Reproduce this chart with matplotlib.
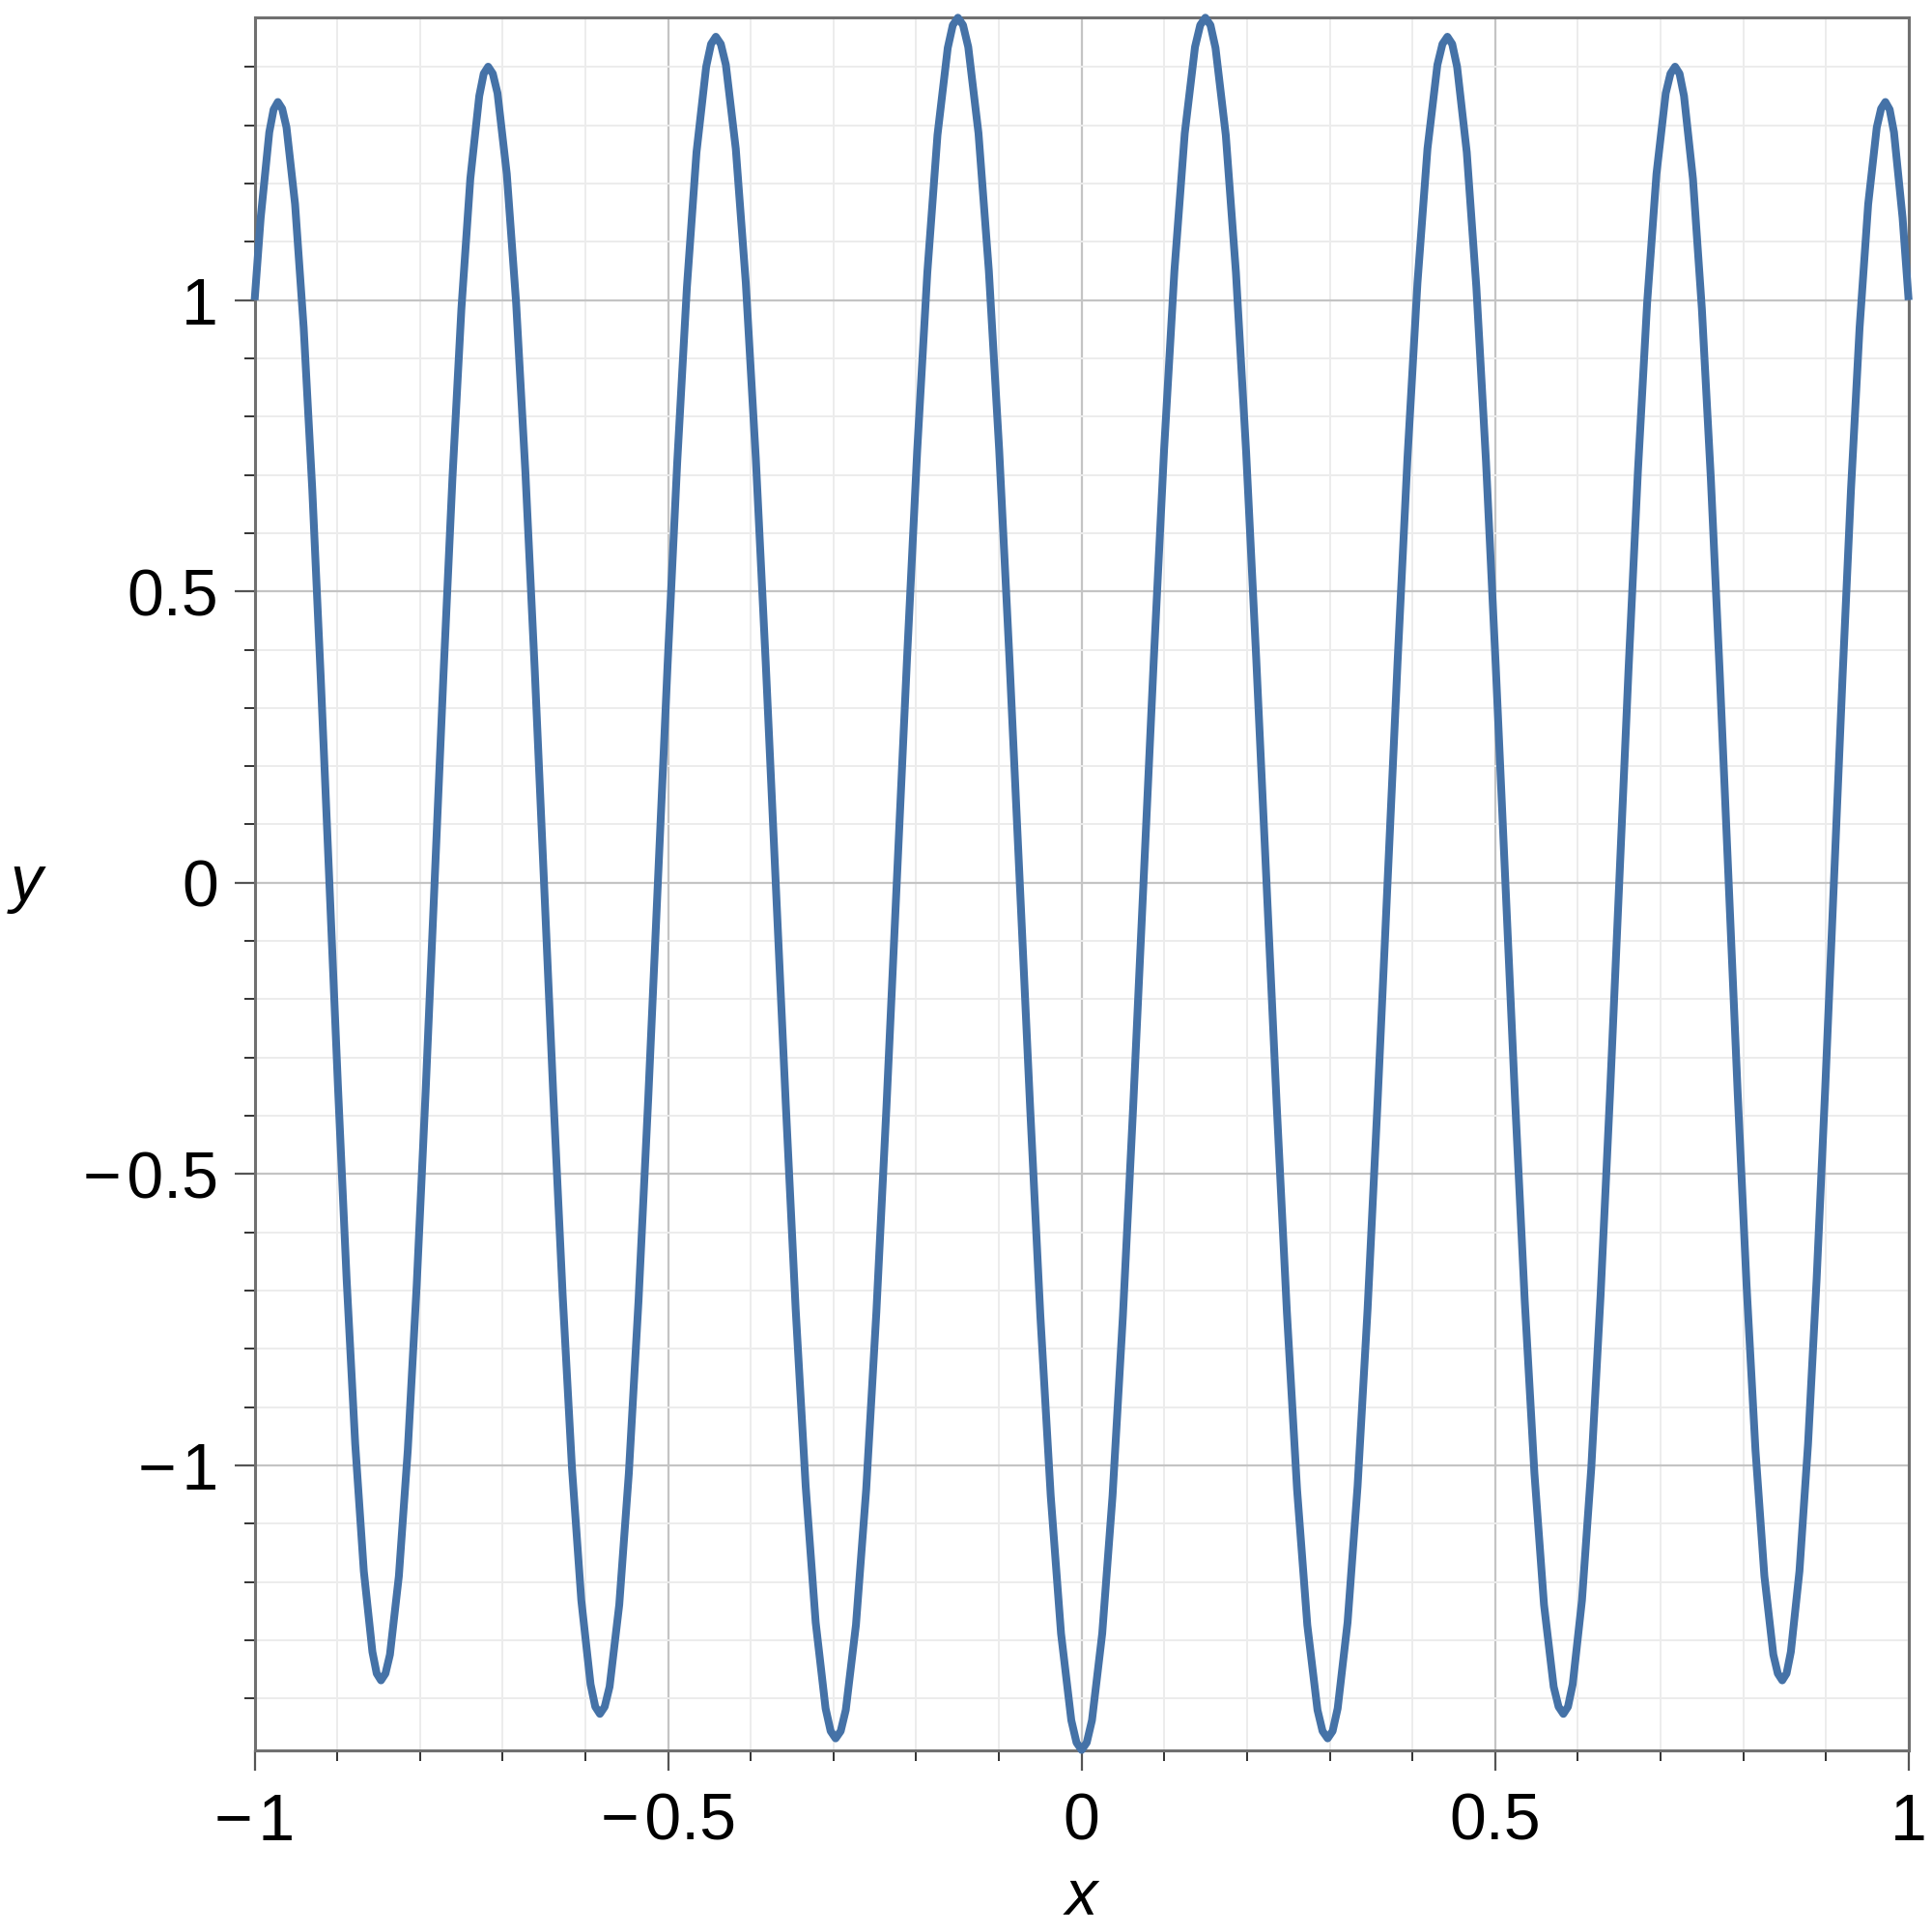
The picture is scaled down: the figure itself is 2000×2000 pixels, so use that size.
import matplotlib
matplotlib.use("Agg")
import matplotlib.pyplot as plt
from matplotlib.ticker import MultipleLocator, FixedLocator
import numpy as np

# Curve samples for x in [0, 1]; the plot is mirror-symmetric about x = 0
x_half = [
    0.0000, 0.0062, 0.0125, 0.0249, 0.0374, 0.0499, 0.0623, 0.0748, 0.0873, 0.0997, 0.1122, 0.1247, 0.1371, 0.1434,
    0.1496, 0.1558, 0.1619, 0.1743, 0.1866, 0.1989, 0.2112, 0.2236, 0.2359, 0.2482, 0.2605, 0.2729, 0.2852, 0.2913,
    0.2975, 0.3035, 0.3096, 0.3216, 0.3337, 0.3458, 0.3578, 0.3699, 0.3820, 0.3940, 0.4061, 0.4182, 0.4302, 0.4363,
    0.4423, 0.4481, 0.4540, 0.4657, 0.4773, 0.4890, 0.5007, 0.5124, 0.5241, 0.5358, 0.5475, 0.5591, 0.5708, 0.5767,
    0.5825, 0.5881, 0.5938, 0.6050, 0.6163, 0.6275, 0.6388, 0.6501, 0.6613, 0.6726, 0.6838, 0.6951, 0.7063, 0.7120,
    0.7176, 0.7230, 0.7284, 0.7392, 0.7500, 0.7608, 0.7716, 0.7824, 0.7932, 0.8040, 0.8148, 0.8256, 0.8364, 0.8418,
    0.8472, 0.8524, 0.8576, 0.8680, 0.8784, 0.8888, 0.8992, 0.9096, 0.9200, 0.9303, 0.9407, 0.9511, 0.9615, 0.9667,
    0.9719, 0.9771, 0.9823, 0.9927, 1.0000,
]
y_half = [
    -1.4885, -1.4757, -1.4375, -1.2885, -1.0518, -0.7436, -0.3848, 0.0000, 0.3847, 0.7430, 1.0505, 1.2863, 1.4344, 1.4719,
    1.4847, 1.4719, 1.4328, 1.2834, 1.0470, 0.7397, 0.3825, 0.0000, -0.3818, -0.7370, -1.0413, -1.2741, -1.4198, -1.4560,
    -1.4686, -1.4560, -1.4172, -1.2694, -1.0355, -0.7315, -0.3783, 0.0000, 0.3776, 0.7288, 1.0297, 1.2599, 1.4038, 1.4395,
    1.4520, 1.4395, 1.4005, 1.2538, 1.0222, 0.7218, 0.3730, 0.0000, -0.3719, -0.7175, -1.0132, -1.2391, -1.3799, -1.4142,
    -1.4265, -1.4142, -1.3757, -1.2316, -1.0041, -0.7089, -0.3664, 0.0000, 0.3653, 0.7046, 0.9950, 1.2166, 1.3550, 1.3886,
    1.4006, 1.3886, 1.3503, 1.2083, 0.9848, 0.6950, 0.3591, 0.0000, -0.3577, -0.6898, -0.9736, -1.1901, -1.3248, -1.3572,
    -1.3690, -1.3572, -1.3200, -1.1814, -0.9629, -0.6797, -0.3512, 0.0000, 0.3499, 0.6748, 0.9526, 1.1646, 1.2966, 1.3285,
    1.3400, 1.3270, 1.2880, 1.1410, 1.0000,
]

x_major = [-1, -0.5, 0, 0.5, 1]
x_major_labels = ["\u2212\u200a1", "\u2212\u200a0.5", "0", "0.5", "1"]
y_major = [-1, -0.5, 0, 0.5, 1]
y_major_labels = ["\u2212\u200a1", "\u2212\u200a0.5", "0", "0.5", "1"]
x_label = "x"
y_label = "y"

xh = np.array(x_half)
yh = np.array(y_half)
x_full = np.concatenate([-xh[:0:-1], xh])
y_full = np.concatenate([yh[:0:-1], yh])

plt.rcParams['font.family'] = ['Liberation Sans', 'DejaVu Sans']

fig = plt.figure(figsize=(10, 10), dpi=200)
ax = fig.add_axes([0.1318, 0.0942, 0.9879 - 0.1318, 0.99085 - 0.0942])

ax.plot(x_full, y_full, color='#4572a7', lw=2.9, solid_joinstyle='round',
        solid_capstyle='butt', zorder=3, clip_on=False)

ax.set_xlim(-1, 1)
ax.set_ylim(-1.4885, 1.4847)

ax.xaxis.set_major_locator(FixedLocator(x_major))
ax.yaxis.set_major_locator(FixedLocator(y_major))
ax.xaxis.set_minor_locator(MultipleLocator(0.1))
ax.yaxis.set_minor_locator(MultipleLocator(0.1))
ax.set_xticklabels(x_major_labels)
ax.set_yticklabels(y_major_labels)

ax.grid(which='major', color='#c4c4c4', lw=0.8, zorder=0)
ax.grid(which='minor', color='#ececec', lw=0.7, zorder=0)
ax.set_axisbelow(True)

for s in ax.spines.values():
    s.set_color('#707070')
    s.set_linewidth(1.1)

ax.tick_params(which='major', direction='out', length=7.5, width=0.8, color='#555555',
               labelsize=24.5, pad=6)
ax.tick_params(which='minor', direction='out', length=4, width=0.7, color='#333333')
ax.tick_params(axis='x', which='major', pad=8)

ax.set_xlabel(x_label, fontsize=24, style='italic')
ax.set_ylabel(y_label, fontsize=24, style='italic', rotation=0, va='center', ha='center')
ax.yaxis.set_label_coords(-0.138, 0.5)
ax.xaxis.set_label_coords(0.5, -0.068)

fig.savefig('out.png', dpi=200, facecolor='white')
